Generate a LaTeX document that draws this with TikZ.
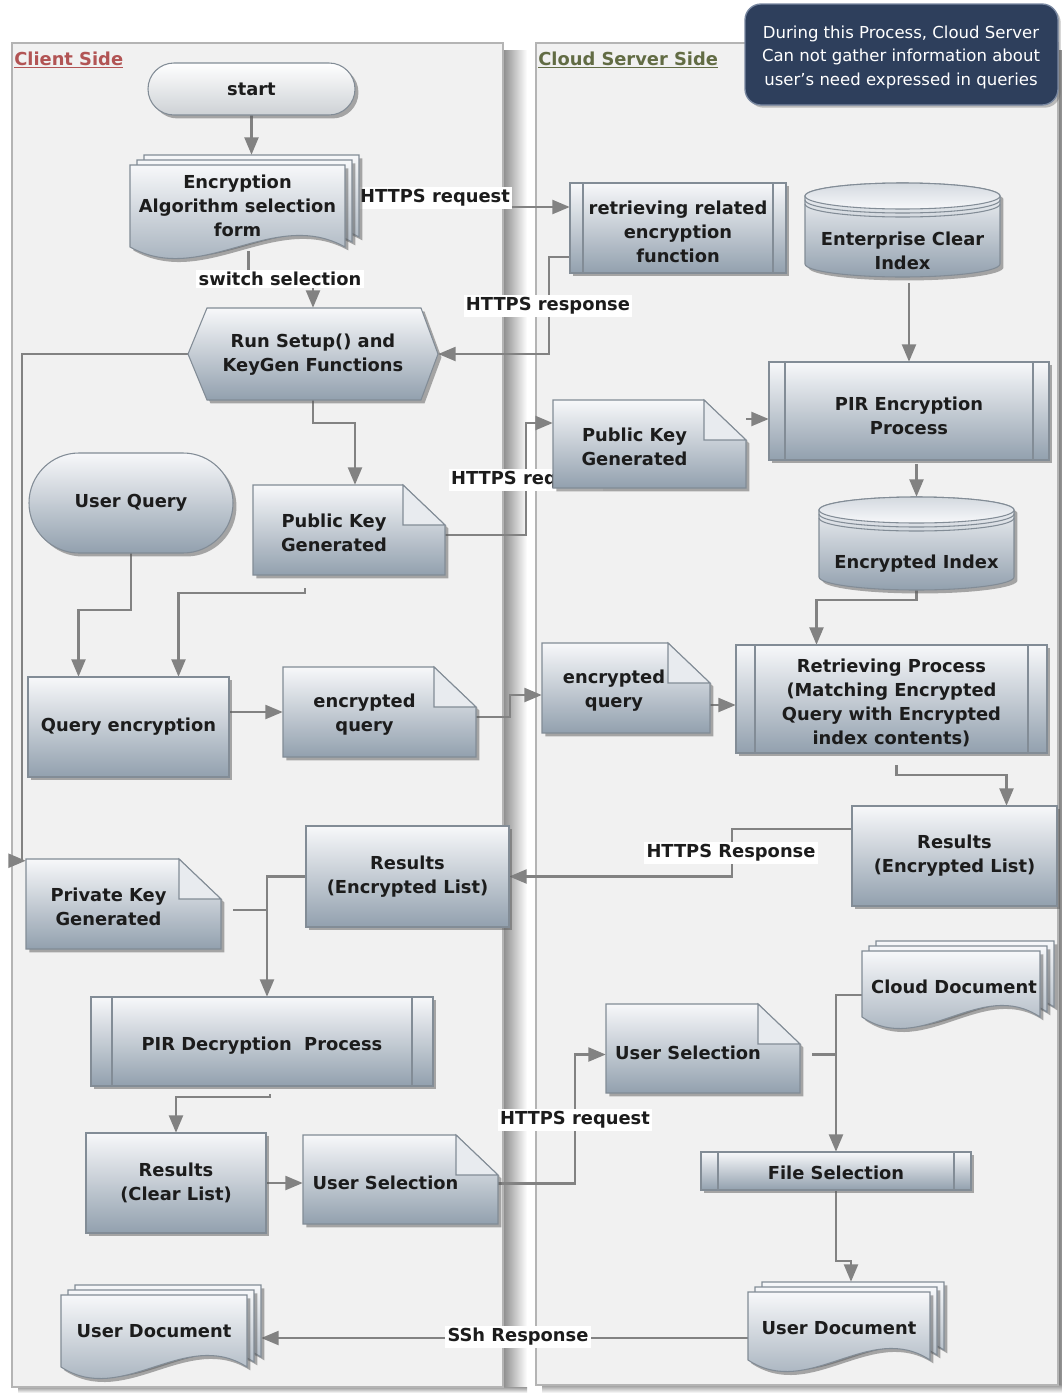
\documentclass[tikz,border=0pt]{standalone}
\usepackage{fontspec}
\setmainfont{DejaVu Sans}
\usetikzlibrary{arrows.meta,shadows,fit,calc}

\definecolor{boxtop}{RGB}{247,248,250}
\definecolor{boxbot}{RGB}{146,160,174}
\definecolor{boxline}{RGB}{130,140,150}
\definecolor{startbot}{RGB}{205,209,213}
\definecolor{lanefill}{RGB}{241,241,241}
\definecolor{laneline}{RGB}{180,180,180}
\definecolor{wire}{RGB}{130,130,130}
\definecolor{notefill}{RGB}{46,63,92}
\definecolor{noteline}{RGB}{120,135,160}
\definecolor{clientred}{RGB}{178,84,84}
\definecolor{cloudgreen}{RGB}{98,108,68}
\definecolor{ink}{RGB}{28,28,28}

\tikzset{
  shapebox/.style={draw=boxline, line width=0.8pt, top color=boxtop, bottom color=boxbot,
    drop shadow={shadow xshift=2.6pt, shadow yshift=-2.6pt, opacity=0.5, fill=black!65}},
  txt/.style={text=ink, font=\fontsize{13.4}{18}\selectfont\bfseries, align=center, inner sep=0pt},
  lbl/.style={fill=white, text=ink, font=\fontsize{13.4}{18}\selectfont\bfseries, inner sep=1.8pt},
  conn/.style={draw=wire, line width=1.6pt, -{Triangle[length=13pt,width=10.5pt]}},
  wireonly/.style={draw=wire, line width=1.6pt},
  fitbox/.style={inner sep=0pt}
}

% plain process box: name, x1, y1, x2, y2, text dx, text dy, text
\newcommand\procbox[8]{%
  \path[shapebox] (#2,#3) rectangle (#4,#5);
  \node[fitbox, fit={(#2,#3) (#4,#5)}] (#1) {};
  \node[txt] (#1-t) at ([shift={(#6,#7)}]#1.center) {#8};}

% predefined process: name, x1, y1, x2, y2, inset, text dx, text dy, text
\newcommand\predef[9]{%
  \path[shapebox] (#2,#3) rectangle (#4,#5);
  \draw[boxline, line width=0.8pt] ({#2+#6},#3) -- ({#2+#6},#5) ({#4-#6},#3) -- ({#4-#6},#5);
  \node[fitbox, fit={(#2,#3) (#4,#5)}] (#1) {};
  \node[txt] (#1-t) at ([shift={(#7,#8)}]#1.center) {#9};}

% terminal: name, x1, y1, x2, y2, corner radius, extra style, text
\newcommand\termbox[8]{%
  \path[shapebox, #7, rounded corners=#6] (#2,#3) rectangle (#4,#5);
  \node[fitbox, fit={(#2,#3) (#4,#5)}] (#1) {};
  \node[txt] (#1-t) at (#1.center) {#8};}

% document with folded corner: name, x1, y1, x2, y2, text dx, text dy, text
\newcommand\notebox[8]{%
  \path[shapebox] (#2,#3) -- ({#4-42},#3) -- (#4,{#3+40}) -- (#4,#5) -- (#2,#5) -- cycle;
  \path[fill=boxtop!85!boxbot, draw=boxline, line width=0.8pt]
    ({#4-42},#3) -- ({#4-42},{#3+40}) -- (#4,{#3+40}) -- cycle;
  \node[fitbox, fit={(#2,#3) (#4,#5)}] (#1) {};
  \node[txt] (#1-t) at ([shift={(#6,#7)}]#1.center) {#8};}

% stack of documents with wavy bottom: name, x1, y1, x2, bottom y, text dx, text dy, text
\newcommand\multidoc[8]{%
  \foreach \k in {2,1,0}{%
    \pgfmathsetmacro\ax{#2+7*\k}%
    \pgfmathsetmacro\bx{#4+7*\k}%
    \pgfmathsetmacro\ay{#3-5*\k}%
    \pgfmathsetmacro\by{#5-5*\k}%
    \pgfmathsetmacro\ca{\bx-(\bx-\ax)/3}%
    \pgfmathsetmacro\cb{\ax+(\bx-\ax)/3}%
    \path[shapebox] (\ax,\ay) -- (\bx,\ay) -- (\bx,\by)
      .. controls (\ca,{\by-40}) and (\cb,{\by+40}) .. (\ax,\by) -- cycle;
  }
  \node[fitbox, fit={(#2,{#3-10}) ({#4+14},{#5+12})}] (#1) {};
  \node[txt] (#1-t) at ([shift={(#6,#7)}]#1.center) {#8};}

% database cylinder: name, x1, y1, x2, y2, text
\newcommand\cylbox[6]{%
  \pgfmathsetmacro\crx{(#4-#2)/2}%
  \pgfmathsetmacro\ccx{(#4+#2)/2}%
  \pgfmathsetmacro\cty{#3+13}%
  \pgfmathsetmacro\cby{#5-13}%
  \path[shapebox] (#2,\cty) -- (#2,\cby)
    arc[start angle=180, end angle=0, x radius=\crx, y radius=13] -- (#4,\cty)
    arc[start angle=0, end angle=-180, x radius=\crx, y radius=13] -- cycle;
  \path[draw=boxline, line width=0.8pt, top color=boxbot!35!boxtop, bottom color=boxtop]
    (\ccx,\cty) ellipse[x radius=\crx, y radius=13];
  \draw[boxline, line width=0.8pt]
    (#2,{\cty+4}) arc[start angle=180, end angle=0, x radius=\crx, y radius=13]
    (#2,{\cty+8}) arc[start angle=180, end angle=0, x radius=\crx, y radius=13];
  \node[fitbox, fit={(#2,#3) (#4,#5)}] (#1) {};
  \node[txt] (#1-t) at (\ccx,{#5-26}) {#6};}

\begin{document}
\begin{tikzpicture}[x=0.75pt, y=-0.75pt]
\useasboundingbox (0,0) rectangle (1062,1393);
\fill[white] (0,0) rectangle (1062,1393);

% ---- swimlanes ----
\shade[left color=black!45, right color=white] (503,50) rectangle (527,1393);
\shade[top color=black!40, bottom color=white] (18,1387) rectangle (527,1393);
\shade[left color=black!50, right color=white] (1058,50) rectangle (1080,1393);
\shade[top color=black!40, bottom color=white] (542,1385) rectangle (1080,1393);
\path[fill=lanefill, draw=laneline, line width=1pt] (12,43) rectangle (503,1387);
\path[fill=lanefill, draw=laneline, line width=1pt] (536,43) rectangle (1058,1385);

\node[anchor=west, text=clientred, font=\fontsize{13.4}{18}\selectfont\bfseries, inner sep=0pt]
  (clienttitle) at (14,60) {\underline{Client Side}};
\node[anchor=west, text=cloudgreen, font=\fontsize{13.4}{18}\selectfont\bfseries, inner sep=0pt]
  (cloudtitle) at (538,60) {\underline{Cloud Server Side}};

% ---- remark ----
\path[fill=notefill, draw=noteline, line width=1pt, rounded corners=12pt,
  drop shadow={shadow xshift=2pt, shadow yshift=-2pt, opacity=0.4, fill=black!60}]
  (745,4) rectangle (1058,105);
\node[text=white, font=\fontsize{12.4}{17.6}\selectfont, align=center, inner sep=0pt]
  (remark) at (901,57) {During this Process, Cloud Server\\Can not gather information about\\user's need expressed in queries};

% ---- anchors of the flow elements (shapes drawn below) ----
\node[fitbox, fit={(148,63) (355,115)}] (start) {};
\node[fitbox, fit={(130,155) (359,259)}] (enc) {};
\node[fitbox, fit={(570,183) (786,273)}] (retr) {};
\node[fitbox, fit={(805,183) (1000,277)}] (eci) {};
\node[fitbox, fit={(188,308) (438,400)}] (hex) {};
\node[fitbox, fit={(769,362) (1049,460)}] (pire) {};
\node[fitbox, fit={(553,400) (746,488)}] (pkcl) {};
\node[fitbox, fit={(819,497) (1014,590)}] (ei) {};
\node[fitbox, fit={(29,453) (233,553)}] (uq) {};
\node[fitbox, fit={(253,485) (445,575)}] (pkc) {};
\node[fitbox, fit={(28,677) (229,777)}] (qe) {};
\node[fitbox, fit={(283,667) (476,757)}] (eqc) {};
\node[fitbox, fit={(542,643) (710,733)}] (eqs) {};
\node[fitbox, fit={(736,645) (1047,753)}] (rp) {};
\node[fitbox, fit={(852,806) (1057,906)}] (resc) {};
\node[fitbox, fit={(306,826) (509,927)}] (resl) {};
\node[fitbox, fit={(26,859) (221,949)}] (prk) {};
\node[fitbox, fit={(862,941) (1054,1029)}] (cdoc) {};
\node[fitbox, fit={(91,997) (433,1086)}] (pird) {};
\node[fitbox, fit={(606,1004) (800,1093)}] (usc) {};
\node[fitbox, fit={(701,1152) (971,1190)}] (fsel) {};
\node[fitbox, fit={(86,1133) (266,1233)}] (rcl) {};
\node[fitbox, fit={(303,1135) (498,1224)}] (usl) {};
\node[fitbox, fit={(61,1285) (261,1379)}] (udl) {};
\node[fitbox, fit={(748,1282) (944,1372)}] (uds) {};

% ---- connectors ----
\draw[conn] (start.south) -- (start.south |- enc.north);
\draw[conn] ([shift={(4,-8)}]enc.south) -- ++(0,29) -| (hex.north);
\draw[conn] (enc.east) -- (enc.east -| retr.west);
\draw[conn] ([shift={(0,29)}]retr.west) -- ++(-21,0) |- (hex.east);
\draw[conn] (hex.west) -- ++(-166,0) |- ([shift={(0,2)}]prk.north west);
\draw[conn] (hex.south) -- ++(0,23) -| ([shift={(6,0)}]pkc.north);
\draw[conn] ([shift={(0,5)}]pkc.east) -- ++(81,0) |- ([shift={(0,-21)}]pkcl.west);
\draw[conn] ([shift={(0,-25)}]pkcl.east) -- ([shift={(0,8)}]pire.west);
\draw[conn] (eci.south -| pire.north) ++(0,6) -- (pire.north);
\draw[conn] (pire.south -| ei.north) ++(0,4) -- (ei.north);
\draw[conn] (ei.south) -- ++(0,10) -| ([shift={(-75,0)}]rp.north);
\draw[conn] (uq.south) -- ++(0,57) -| ([shift={(-50,0)}]qe.north);
\draw[conn] ([shift={(-44,13)}]pkc.south) -- ++(0,5) -| ([shift={(50,0)}]qe.north);
\draw[conn] (qe.east |- eqc.west) -- (eqc.west);
\draw[conn] ([shift={(0,5)}]eqc.east) -- ++(34,0) |- ([shift={(0,7)}]eqs.west);
\coordinate (rpin) at ([shift={(0,6)}]rp.west);
\draw[conn] (eqs.east |- rpin) -- (rpin);
\draw[conn] ([shift={(5,12)}]rp.south) -- ++(0,10) -| ([shift={(52,0)}]resc.north);
\draw[conn] ([shift={(0,-27)}]resc.west) -- ++(-120,0) |- (resl.east);
\draw[conn] (resl.west) -| ([shift={(5,0)}]pird.north);
\draw[wireonly] ([shift={(12,6)}]prk.east) -- ++(34,0);
\draw[conn] ([shift={(8,8)}]pird.south) -- ++(0,3) -| (rcl.north);
\draw[conn] (rcl.east) -- (rcl.east -| usl.west);
\draw[conn] ([shift={(0,4)}]usl.east) -- ++(77,0) |- ([shift={(0,6)}]usc.west);
\draw[conn] ([shift={(0,10)}]cdoc.west) -| (fsel.north);
\draw[wireonly] ([shift={(12,6)}]usc.east) -- ++(24,0);
\draw[conn] (fsel.south) -- ++(0,71) -| ([shift={(5,0)}]uds.north);
\coordinate (sshin) at ([shift={(0,11)}]uds.west);
\draw[conn] (sshin) -- (sshin -| udl.east);

% ---- connector labels ----
\node[lbl] (lab-req1) at (435,198) {HTTPS request};
\node[lbl] (lab-switch) at (280,279) {switch selection};
\node[lbl] (lab-resp1) at (548,306) {HTTPS response};
\node[lbl] (lab-req2) at (526,480) {HTTPS request};
\node[lbl] (lab-resp2) at (731,853) {HTTPS Response};
\node[lbl] (lab-req3) at (575,1120) {HTTPS request};
\node[lbl] (lab-ssh) at (518,1337) {SSh Response};

% ---- flow elements ----
\termbox{start}{148}{63}{355}{115}{19.5pt}{top color=white, bottom color=startbot}{start}
\multidoc{enc}{130}{165}{345}{247}{-7}{-1}{Encryption\\Algorithm selection\\form}
\predef{retr}{570}{183}{786}{273}{13}{0}{4}{retrieving related\\encryption\\function}
\cylbox{eci}{805}{183}{1000}{277}{Enterprise Clear\\Index}

\path[shapebox] (188,354) -- (207,308) -- (421,308) -- (438,354) -- (421,400) -- (207,400) -- cycle;
\node[fitbox, fit={(188,308) (438,400)}] (hex) {};
\node[txt] (hex-t) at ([shift={(0,1)}]hex.center) {Run Setup() and\\KeyGen Functions};

\predef{pire}{769}{362}{1049}{460}{16}{0}{5}{PIR Encryption\\Process}
\notebox{pkcl}{553}{400}{746}{488}{-15}{3}{Public Key\\Generated}
\cylbox{ei}{819}{497}{1014}{590}{Encrypted Index}
\termbox{uq}{29}{453}{233}{553}{37.5pt}{}{User Query}
\notebox{pkc}{253}{485}{445}{575}{-15}{3}{Public Key\\Generated}
\procbox{qe}{28}{677}{229}{777}{0}{0}{Query encryption}
\notebox{eqc}{283}{667}{476}{757}{-15}{3}{encrypted\\query}
\notebox{eqs}{542}{643}{710}{733}{-12}{3}{encrypted\\query}
\predef{rp}{736}{645}{1047}{753}{19}{0}{4}{Retrieving Process\\(Matching Encrypted\\Query with Encrypted\\index contents)}
\procbox{resc}{852}{806}{1057}{906}{0}{0}{Results\\(Encrypted List)}
\procbox{resl}{306}{826}{509}{927}{0}{0}{Results\\(Encrypted List)}
\notebox{prk}{26}{859}{221}{949}{-15}{3}{Private Key\\Generated}
\multidoc{cdoc}{862}{951}{1040}{1017}{-4}{2}{Cloud Document}
\predef{pird}{91}{997}{433}{1086}{21}{0}{4}{PIR Decryption~ Process}
\notebox{usc}{606}{1004}{800}{1093}{-15}{4}{User Selection}
\predef{fsel}{701}{1152}{971}{1190}{17}{0}{2}{File Selection}
\procbox{rcl}{86}{1133}{266}{1233}{0}{0}{Results\\(Clear List)}
\notebox{usl}{303}{1135}{498}{1224}{-15}{3}{User Selection}
\multidoc{udl}{61}{1295}{247}{1367}{-7}{-1}{User Document}
\multidoc{uds}{748}{1292}{930}{1360}{-7}{1}{User Document}
\end{tikzpicture}
\end{document}
